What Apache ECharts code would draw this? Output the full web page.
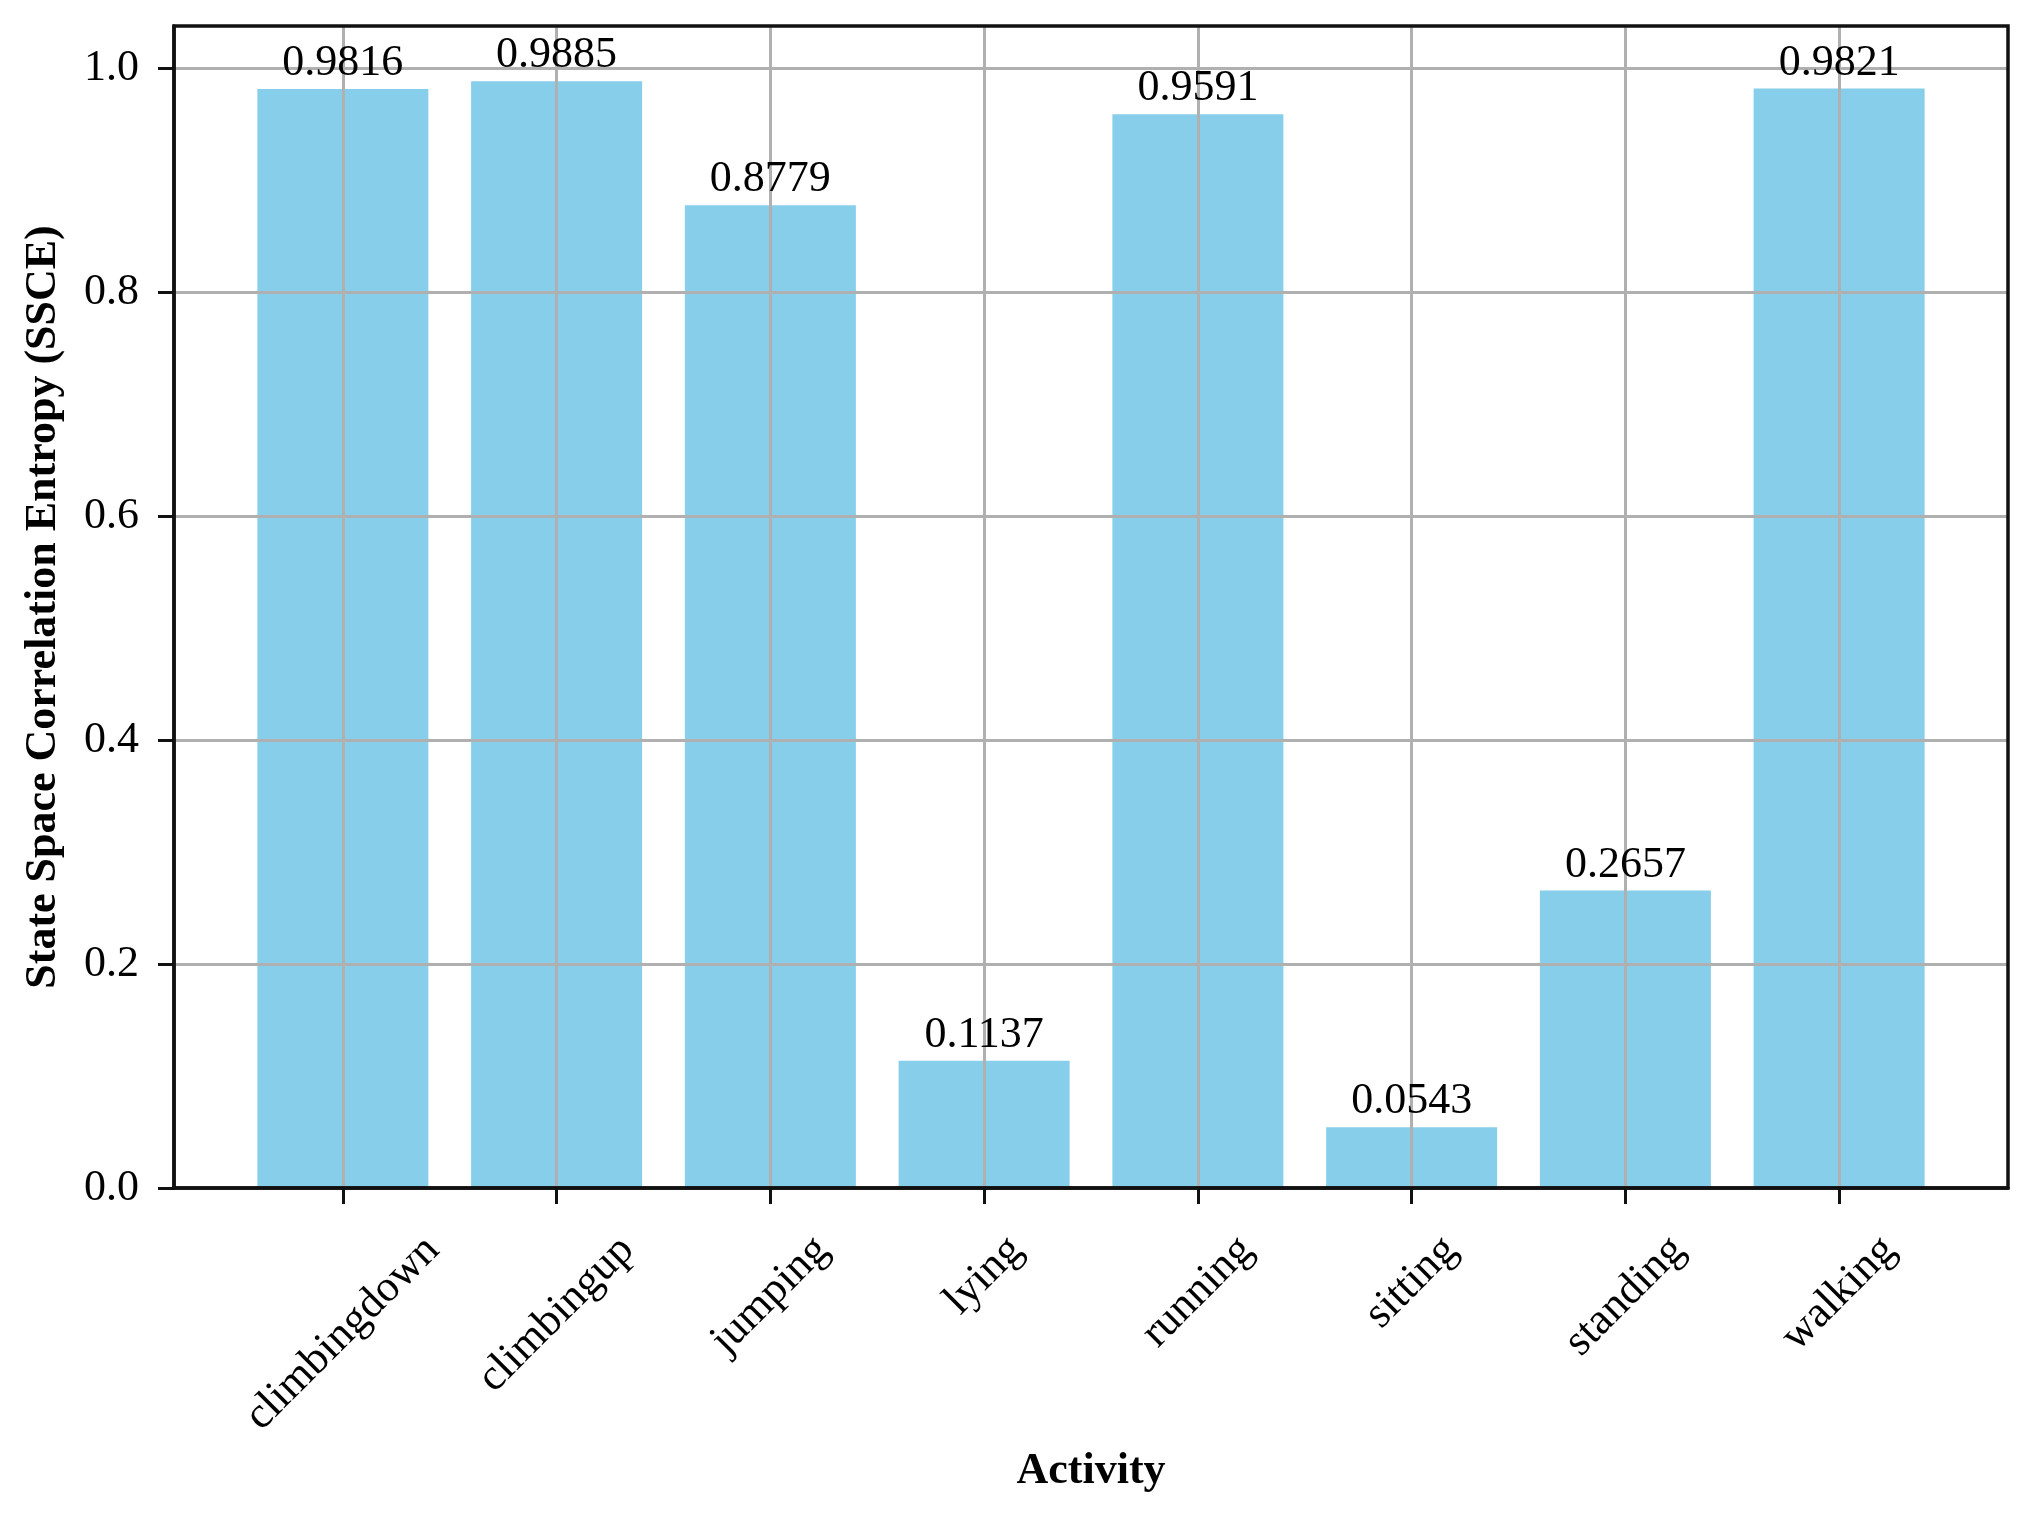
<!DOCTYPE html>
<html>
<head>
<meta charset="utf-8">
<script src="https://cdn.jsdelivr.net/npm/echarts@6/dist/echarts.min.js"></script>
<style>
  html, body { margin: 0; padding: 0; background: #fff; }
  #chart { width: 2033px; height: 1513px; }
</style>
</head>
<body>
<div id="chart"></div>
<script>
// ---- data ----
const categories = ['climbingdown', 'climbingup', 'jumping', 'lying', 'running', 'sitting', 'standing', 'walking'];
const ssceValues = [0.9816, 0.9885, 0.8779, 0.1137, 0.9591, 0.0543, 0.2657, 0.9821];
const yTicks = [0.0, 0.2, 0.4, 0.6, 0.8, 1.0];
const xTitle = 'Activity';
const yTitle = 'State Space Correlation Entropy (SSCE)';

// ---- layout / style ----
const FONT = '"Liberation Serif", "Times New Roman", serif';
const FS = 44;
const W = 2033, H = 1513;
const gridL = 174, gridR = 25, gridT = 26, gridB = 325;
const xMin = -0.79, xMax = categories.length - 1 + 0.79;
const yMax = Math.max(...ssceValues) * 1.05;
const unitPx = (W - gridL - gridR) / (xMax - xMin);
const barPx = 0.8 * unitPx;

const xIdx = categories.map((c, i) => i);

// measure label widths to emulate centred rotated labels
const ctx = document.createElement('canvas').getContext('2d');
ctx.font = FS + 'px ' + FONT;
const rich = {};
categories.forEach((c, i) => {
  const w = ctx.measureText(c).width;
  const h = FS;
  const p = 0.5 * (w + h);
  rich['l' + i] = { fontFamily: FONT, fontSize: FS, color: '#000', padding: [p, p, 0, 0] };
});

const chart = echarts.init(document.getElementById('chart'), null, { renderer: 'canvas' });
chart.setOption({
  backgroundColor: '#fff',
  animation: false,
  grid: {
    left: gridL, right: gridR, top: gridT, bottom: gridB,
    show: true, borderColor: '#111', borderWidth: 3.5, backgroundColor: 'transparent', z: 4
  },
  xAxis: {
    type: 'value', min: xMin, max: xMax, z: 3,
    name: xTitle, nameLocation: 'middle', nameGap: 262,
    nameTextStyle: { fontFamily: FONT, fontSize: FS, fontWeight: 'bold', color: '#000' },
    axisLine: { show: true, onZero: false, lineStyle: { color: '#111', width: 3.5 } },
    axisTick: { show: true, customValues: xIdx, length: 16, lineStyle: { color: '#111', width: 3 } },
    axisLabel: {
      customValues: xIdx, rotate: 45, align: 'center', verticalAlign: 'middle', margin: 40,
      fontFamily: FONT, fontSize: FS, color: '#000',
      formatter: v => '{l' + v + '|' + categories[v] + '}',
      rich: rich
    },
    splitLine: { show: true, lineStyle: { color: '#b0b0b0', width: 3 } }
  },
  yAxis: {
    type: 'value', min: 0, max: yMax, z: 3,
    name: yTitle, nameLocation: 'middle', nameGap: 108,
    nameTextStyle: { fontFamily: FONT, fontSize: FS, fontWeight: 'bold', color: '#000' },
    axisLine: { show: true, onZero: false, lineStyle: { color: '#111', width: 3.5 } },
    axisTick: { show: true, customValues: yTicks, length: 16, lineStyle: { color: '#111', width: 3 } },
    axisLabel: {
      customValues: yTicks, margin: 35, fontFamily: FONT, fontSize: FS, color: '#000',
      formatter: v => v.toFixed(1)
    },
    splitLine: { show: true, lineStyle: { color: '#b0b0b0', width: 3 } }
  },
  series: [
    {
      type: 'bar', z: 1, barWidth: barPx,
      itemStyle: { color: '#87CEEB' },
      data: ssceValues.map((v, i) => [i, v])
    },
    {
      type: 'scatter', z: 6, symbolSize: 1, silent: true,
      itemStyle: { color: 'rgba(255,255,255,0)' },
      label: {
        show: true, position: 'top', distance: 3,
        fontFamily: FONT, fontSize: FS, color: '#000000', opacity: 1,
        formatter: p => p.value[1].toFixed(4)
      },
      data: ssceValues.map((v, i) => [i, v])
    }
  ]
});
</script>
</body>
</html>
